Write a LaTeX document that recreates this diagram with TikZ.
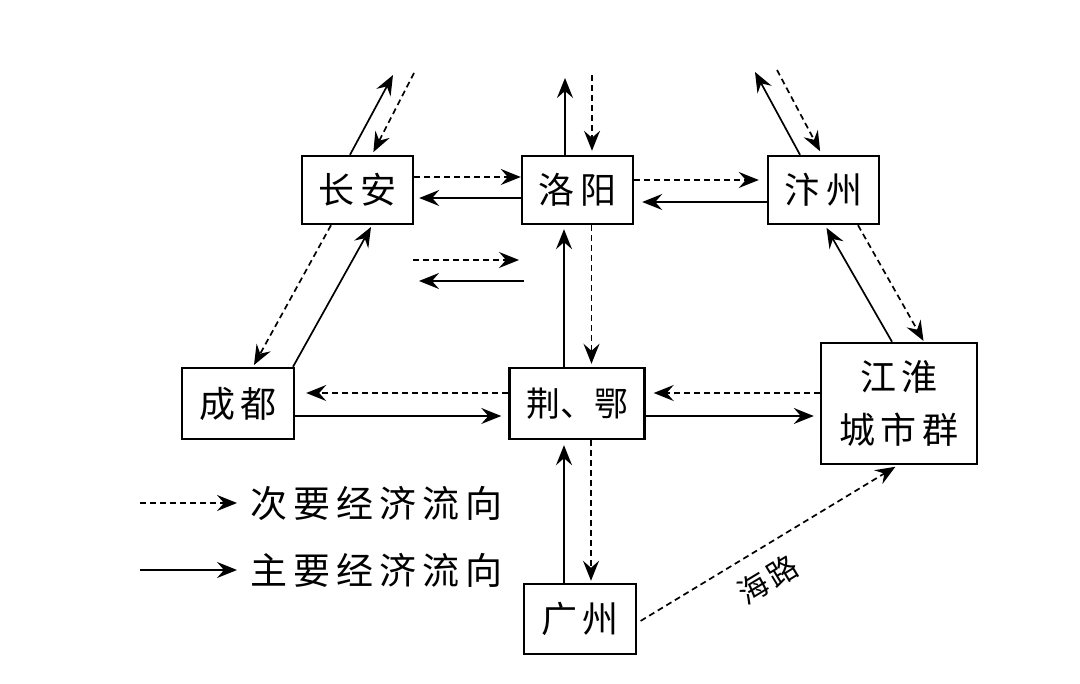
\documentclass[tikz,border=0pt]{standalone}
\usepackage{fontspec}
\setmainfont{Noto Sans CJK SC}
\usetikzlibrary{arrows.meta}
\newcommand\gp{\hspace{6pt}}
\begin{document}
\begin{tikzpicture}[x=1pt,y=-1pt,
  box/.style={draw,line width=2.4pt,inner sep=0pt,align=center,font=\fontsize{36}{53}\selectfont},
  flow/.style={line width=1.7pt,-{Stealth[length=20pt,width=16pt,inset=7pt]}},
  minor/.style={flow,dash pattern=on 6pt off 4pt},
  lab/.style={font=\fontsize{37}{40}\selectfont,inner sep=0pt}]
\useasboundingbox[fill=white] (0,0) rectangle (1080,684);
% nodes
\node[box,minimum width=111pt,minimum height=68pt] (ca) at (357.5,190) {长\gp 安};
\node[box,minimum width=111pt,minimum height=68pt] (ly) at (577.5,190) {洛\gp 阳};
\node[box,minimum width=111pt,minimum height=68pt] (bz) at (823.5,190) {汴\gp 州};
\node[box,minimum width=112pt,minimum height=71pt] (cd) at (238,403.5) {成\gp 都};
\node[box,minimum width=135pt,minimum height=71pt,font=\fontsize{34}{40}\selectfont] (je) at (577,403.5) {荆、鄂};
\node[box,minimum width=156pt,minimum height=121pt] (jh) at (899,403.5) {江\gp 淮\\城\gp 市\gp 群};
\node[box,minimum width=112pt,minimum height=70pt] (gz) at (580,619) {广\gp 州};
% free ends
\coordinate (caU1) at (393,75);
\coordinate (caU2) at (414,73);
\coordinate (lyU1) at (565,78);
\coordinate (lyU2) at (592,75);
\coordinate (bzU1) at (755,72);
\coordinate (bzU2) at (777,70);
\coordinate (m1a) at (413,260);
\coordinate (m1b) at (519,260);
\coordinate (m2a) at (524,281);
\coordinate (m2b) at (419,281);
\coordinate (lg1a) at (140,503);
\coordinate (lg1b) at (237,503);
\coordinate (lg2a) at (140,570);
\coordinate (lg2b) at (237,570);
% upper row
\draw[minor] ([yshift=13pt]ca.east) -- ([yshift=13pt]ly.west);
\draw[flow,shorten >=5pt] ([yshift=-8pt]ly.west) -- ([yshift=-8pt]ca.east);
\draw[minor,shorten >=8pt] ([yshift=10pt]ly.east) -- ([yshift=10pt]bz.west);
\draw[flow,shorten >=8pt] ([yshift=-12pt]bz.west) -- ([yshift=-12pt]ly.east);
% outward from top row
\draw[flow] ([xshift=-7.5pt]ca.north) -- (caU1);
\draw[minor,shorten >=3pt] (caU2) -- ([xshift=14.5pt]ca.north);
\draw[flow] ([xshift=-12.5pt]ly.north) -- (lyU1 |- 0,78);
\draw[minor,shorten >=4pt] (lyU2) -- ([xshift=14.5pt]ly.north);
\draw[flow] ([xshift=-23.5pt]bz.north) -- (bzU1);
\draw[minor,shorten >=4pt] (bzU2) -- ([xshift=-1.5pt]bz.north);
% luoyang - jing e
\draw[flow,shorten >=4pt] ([xshift=-13pt]je.north) -- ([xshift=-13pt]je.north |- ly.south);
\draw[minor,shorten >=3pt] ([xshift=14pt]ly.south) -- ([xshift=14pt]ly.south |- je.north);
% jing e - guangzhou
\draw[flow,shorten >=5pt] ([xshift=-13pt]je.south |- gz.north) -- ([xshift=-13pt]je.south);
\draw[minor,shorten >=2pt] ([xshift=14pt]je.south) -- ([xshift=14pt]je.south |- gz.north);
% chengdu - jing e
\draw[minor,shorten >=11pt] ([yshift=10.5pt]je.west) -- ([yshift=10.5pt]je.west -| cd.east);
\draw[flow,shorten >=7pt] ([yshift=-12.5pt]cd.east) -- ([yshift=-12.5pt]cd.east -| je.west);
% jing e - jianghuai
\draw[minor,shorten >=8pt] ([yshift=10.5pt]je.east -| jh.west) -- ([yshift=10.5pt]je.east);
\draw[flow,shorten >=6pt] ([yshift=-12.5pt]je.east) -- ([yshift=-12.5pt]je.east -| jh.west);
% changan - chengdu
\draw[minor,shorten >=2pt] ([xshift=-26.5pt]ca.south) -- ([xshift=15pt]cd.north);
\draw[flow,shorten >=2pt] ([xshift=55pt]cd.north) -- ([xshift=14.5pt]ca.south);
% bianzhou - jianghuai
\draw[flow,shorten >=3pt] ([xshift=-7pt]jh.north) -- ([xshift=1.5pt]bz.south);
\draw[minor,shorten >=1pt] ([xshift=34.5pt]bz.south) -- ([xshift=25pt]jh.north);
% middle pair
\draw[minor] (m1a) -- (m1b);
\draw[flow] (m2a) -- (m2b);
% sea route
\draw[minor,shorten >=3pt,shorten <=4pt] ([yshift=-4pt]gz.east) -- ([xshift=-1pt]jh.south)
  node[pos=0.44,below=16pt,sloped,inner sep=0pt,font=\fontsize{30}{32}\selectfont] (hl) {海\hspace{3pt}路};
% legend
\draw[minor] (lg1a) -- (lg1b);
\node[lab,anchor=west] (t1) at (250,503) {次\gp 要\gp 经\gp 济\gp 流\gp 向};
\draw[flow] (lg2a) -- (lg2b);
\node[lab,anchor=west] (t2) at (250,570) {主\gp 要\gp 经\gp 济\gp 流\gp 向};
\end{tikzpicture}
\end{document}
